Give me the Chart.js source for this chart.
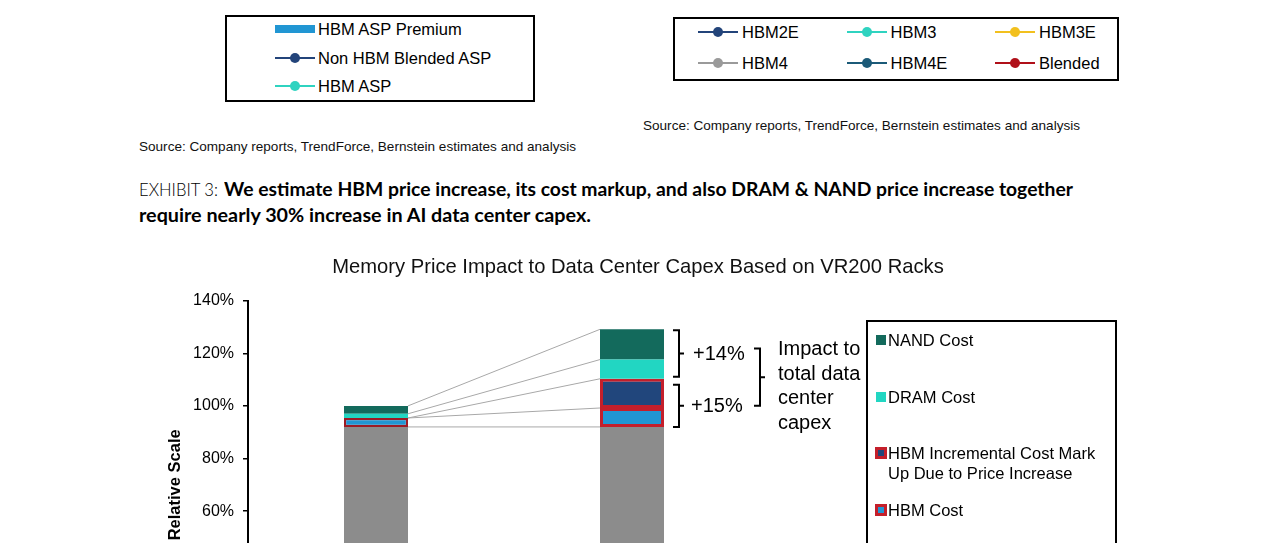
<!DOCTYPE html>
<html>
<head>
<meta charset="utf-8">
<script src="https://cdn.jsdelivr.net/npm/chart.js@4.4.1/dist/chart.umd.min.js"></script>
<style>
  html, body { margin: 0; padding: 0; background: #fff; }
  body { width: 1275px; height: 543px; overflow: hidden; position: relative;
         font-family: "Liberation Sans", Arial, sans-serif; color: #000; }
  .t { position: absolute; white-space: nowrap; transform-origin: left center; }
  .box { position: absolute; border: 2px solid #000; box-sizing: border-box; }
  .lg { position: absolute; font-size: 16.5px; line-height: 20px; white-space: nowrap; }
  .src { font-family: "Liberation Sans", Arial, sans-serif; font-size: 13.5px; line-height: 16px; color: #111; }
  .ex { font-family: Lato, sans-serif; font-size: 18px; line-height: 22px; }
  #c { position: absolute; left: 140px; top: 240px; }
</style>
</head>
<body>

<div class="box" style="left:225px;top:15px;width:310px;height:87px"></div>
<div class="box" style="left:673px;top:17px;width:446px;height:64px"></div>

<div class="t src" style="left:643px;top:118px" data-w="437">Source: Company reports, TrendForce, Bernstein estimates and analysis</div>
<div class="t src" style="left:139px;top:139px" data-w="437">Source: Company reports, TrendForce, Bernstein estimates and analysis</div>

<div class="t ex" style="left:139px;top:178px;font-weight:300" data-w="79">EXHIBIT 3:</div>
<div class="t ex" style="left:224px;top:178px;font-weight:700" data-w="849">We estimate HBM price increase, its cost markup, and also DRAM &amp; NAND price increase together</div>
<div class="t ex" style="left:139px;top:204px;font-weight:700" data-w="452">require nearly 30% increase in AI data center capex.</div>

<div class="box" style="left:866px;top:320px;width:251px;height:400px"></div>

<canvas id="c" width="996" height="469"></canvas>

<script>
// legends of the two exhibits above (only their legend boxes are in view)
const asxLabels = ["HBM ASP Premium", "Non HBM Blended ASP", "HBM ASP"];
const aspColors = ["#2196d3", "#23447a", "#2fd3c0"];
const aspKinds = ["bar", "line", "line"];

const genLabels = ["HBM2E", "HBM3", "HBM3E", "HBM4", "HBM4E", "Blended"];
const genColors = ["#23447a", "#2fd3c0", "#f2c01e", "#9a9a9a", "#1b5a78", "#b01019"];

// exhibit 3 data, % of current data center capex
const categories = ["Current", "After Memory Price Increase"];
const otherCost = [92, 92];
const hbmCost = [3.4, 7.2];
const hbmMarkup = [0, 11.1];
const dramCost = [1.6, 7.3];
const nandCost = [3.0, 11.5];
const yMax = 140;
const yStep = 20;

function swatch(kind, color, x, cy) {
  const el = document.createElement("div");
  el.style.position = "absolute";
  if (kind === "bar") {
    el.style.cssText += "left:" + x + "px;top:" + (cy - 4) + "px;width:40px;height:8px;background:" + color;
    document.body.appendChild(el);
    return;
  }
  el.style.cssText += "left:" + x + "px;top:" + (cy - 1) + "px;width:40px;height:2px;background:" + color;
  document.body.appendChild(el);
  const dot = document.createElement("div");
  dot.style.cssText = "position:absolute;left:" + (x + 15) + "px;top:" + (cy - 5) + "px;width:10px;height:10px;border-radius:50%;background:" + color;
  document.body.appendChild(dot);
}

function label(text, x, cy) {
  const el = document.createElement("div");
  el.className = "lg";
  el.style.left = x + "px";
  el.style.top = (cy - 10) + "px";
  el.textContent = text;
  document.body.appendChild(el);
}

asxLabels.forEach((t, i) => {
  const cy = 29 + i * 28.5;
  swatch(aspKinds[i], aspColors[i], 275, cy);
  label(t, 318, cy);
});

genLabels.forEach((t, i) => {
  const col = i % 3, row = Math.floor(i / 3);
  const cy = 32 + row * 31;
  swatch("line", genColors[i], 698 + col * 148.5, cy);
  label(t, 742 + col * 148.5, cy);
});

document.querySelectorAll("[data-w]").forEach(el => {
  const w = el.getBoundingClientRect().width;
  el.style.transform = "scaleX(" + (+el.dataset.w / w) + ")";
});

Chart.defaults.font.family = '"Liberation Sans", Arial, sans-serif';
Chart.defaults.color = "#000";

const red = ["#9c1b25", "#c41f2b"];

const datasets = [
  { label: "Other Cost", data: otherCost, backgroundColor: "#8c8c8c", borderWidth: 0 },
  { label: "HBM Cost", data: hbmCost, backgroundColor: "#2196d3", borderColor: red, borderWidth: [2.2, 3], borderSkipped: false },
  { label: "HBM Incremental Cost Mark\nUp Due to Price Increase", data: hbmMarkup, backgroundColor: "#21467c", borderColor: red, borderWidth: [2.2, 3], borderSkipped: false },
  { label: "DRAM Cost", data: dramCost, backgroundColor: "#22d6c2", borderWidth: 0 },
  { label: "NAND Cost", data: nandCost, backgroundColor: "#136a5c", borderWidth: 0 }
];

// gray lines tying each segment boundary of the first bar to the second
const connectors = {
  id: "connectors",
  beforeDatasetsDraw(chart) {
    const ctx = chart.ctx;
    ctx.save();
    ctx.strokeStyle = "#a8a8a8";
    ctx.lineWidth = 1;
    chart.data.datasets.forEach((ds, i) => {
      const a = chart.getDatasetMeta(i).data[0];
      const b = chart.getDatasetMeta(i).data[1];
      ctx.beginPath();
      ctx.moveTo(a.x + a.width / 2, a.y);
      ctx.lineTo(b.x - b.width / 2, b.y);
      ctx.stroke();
    });
    ctx.restore();
  }
};

function bracket(ctx, x, top, bottom, endLen, tickLen) {
  const mid = (top + bottom) / 2;
  ctx.beginPath();
  ctx.moveTo(x - endLen, top);
  ctx.lineTo(x, top);
  ctx.lineTo(x, bottom);
  ctx.lineTo(x - endLen, bottom);
  ctx.moveTo(x, mid);
  ctx.lineTo(x + tickLen, mid);
  ctx.stroke();
}

const brackets = {
  id: "brackets",
  afterDatasetsDraw(chart) {
    const ctx = chart.ctx;
    const bar = i => chart.getDatasetMeta(i).data[1];
    const right = bar(0).x + bar(0).width / 2;
    const top1 = bar(4).y + 1;
    const bot1 = bar(3).base - 2;
    const top2 = bar(3).base + 6;
    const bot2 = bar(1).base;
    const memUp = (dramCost[1] + nandCost[1]) - (dramCost[0] + nandCost[0]);
    const hbmUp = (hbmCost[1] + hbmMarkup[1]) - (hbmCost[0] + hbmMarkup[0]);
    ctx.save();
    ctx.strokeStyle = "#000";
    ctx.lineWidth = 2;
    bracket(ctx, right + 15, top1, bot1, 6, 5);
    bracket(ctx, right + 15, top2, bot2, 6, 5);
    const mid1 = (top1 + bot1) / 2, mid2 = (top2 + bot2) / 2;
    ctx.fillStyle = "#000";
    ctx.font = '20px "Liberation Sans", Arial, sans-serif';
    ctx.textBaseline = "middle";
    ctx.fillText("+" + Math.round(memUp) + "%", right + 29, mid1 + 1);
    ctx.fillText("+" + Math.round(hbmUp) + "%", right + 27, mid2 + 1);
    bracket(ctx, right + 96, mid1 - 5, mid2, 6, 5);
    ["Impact to", "total data", "center", "capex"].forEach((t, i) => {
      ctx.fillText(t, right + 114, mid1 - 4 + i * 24.5);
    });
    ctx.restore();
  }
};

new Chart(document.getElementById("c"), {
  type: "bar",
  data: { labels: categories, datasets: datasets },
  options: {
    responsive: false,
    animation: false,
    layout: { padding: { left: 22, right: 22, top: 0, bottom: 0 } },
    datasets: { bar: { barPercentage: 0.25, categoryPercentage: 1 } },
    plugins: {
      legend: { display: false },
      tooltip: { enabled: false },
      title: {
        display: true,
        text: "Memory Price Impact to Data Center Capex Based on VR200 Racks",
        font: { size: 20.2, weight: "normal" },
        color: "#111",
        padding: { top: 15, bottom: 21.4 }
      }
    },
    scales: {
      x: {
        stacked: true,
        grid: { display: false },
        border: { display: true, color: "#000", width: 2 },
        ticks: { font: { size: 16 } },
        afterFit: s => { s.height = 40; }
      },
      y: {
        stacked: true,
        min: 0,
        max: yMax,
        ticks: { stepSize: yStep, callback: v => v + "%", font: { size: 16 }, padding: 9 },
        grid: { display: true, drawOnChartArea: false, drawTicks: true, tickLength: 5, color: "#000", lineWidth: 1.5 },
        border: { display: true, color: "#000", width: 2 },
        title: { display: true, text: "Relative Scale", font: { size: 16.5, weight: "bold" }, padding: { top: 4, bottom: 4 } },
        afterFit: s => { s.width = 86; }
      },
      yRight: {
        type: "linear",
        position: "right",
        grid: { display: false },
        border: { display: false },
        ticks: { display: false },
        afterFit: s => { s.width = 354; }
      }
    }
  },
  plugins: [connectors, brackets]
});

// right-hand legend, top item first as in the stack
const legendItems = [4, 3, 2, 1];
legendItems.forEach((di, i) => {
  const ds = datasets[di];
  const cy = 340 + i * 56.5;
  const sw = document.createElement("div");
  const bordered = ds.borderColor !== undefined;
  const size = bordered ? 12 : 10;
  sw.style.cssText = "position:absolute;box-sizing:border-box;left:" + (bordered ? 875 : 876) + "px;top:" + (cy - size / 2) +
    "px;width:" + size + "px;height:" + size + "px;background:" + ds.backgroundColor +
    (bordered ? ";border:3px solid " + red[1] : "");
  document.body.appendChild(sw);
  ds.label.split("\n").forEach((line, j) => {
    const el = document.createElement("div");
    el.className = "lg";
    el.style.left = "888px";
    el.style.top = (cy - 10 + j * 20) + "px";
    el.textContent = line;
    document.body.appendChild(el);
  });
});
</script>
</body>
</html>
